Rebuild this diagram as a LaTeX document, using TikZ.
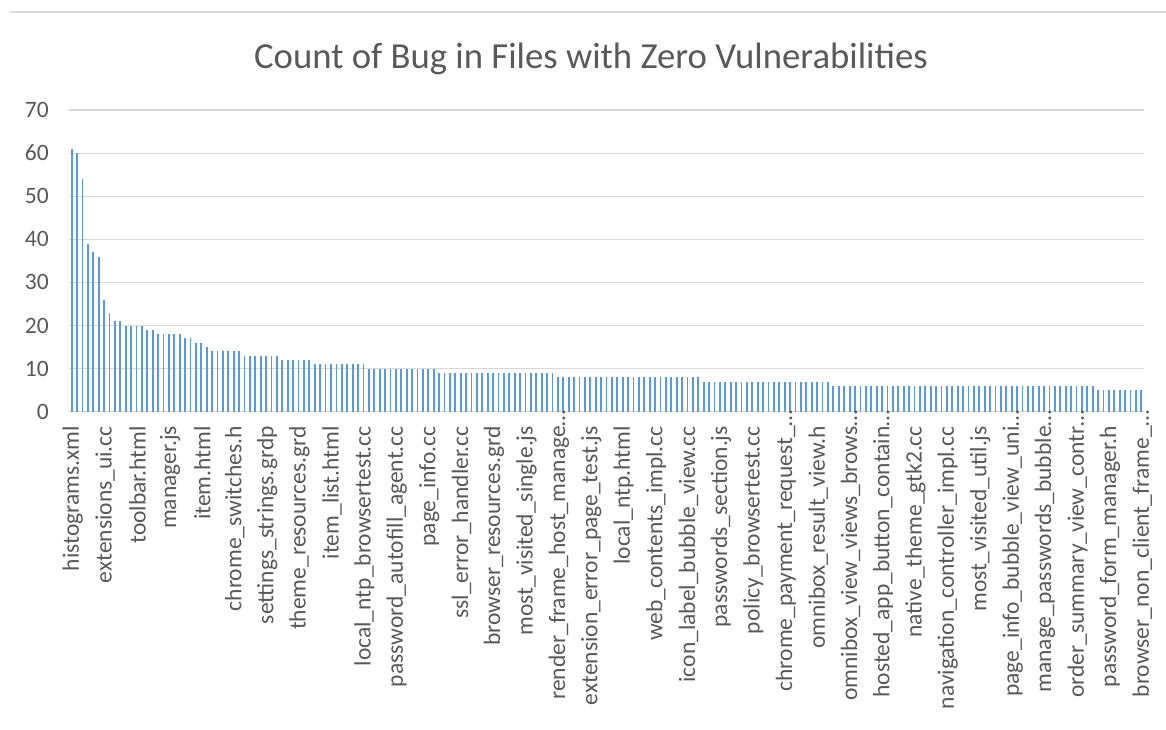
\documentclass[tikz,border=0pt]{standalone}
\usepackage{fontspec}
\setmainfont{Carlito}
\definecolor{barc}{HTML}{5B9BD5}
\definecolor{txt}{HTML}{595959}
\definecolor{gridc}{HTML}{D9D9D9}
\begin{document}
\begin{tikzpicture}[x=1pt,y=-1pt,
  gridline/.style={draw=gridc,line width=1.1pt},
  bar/.style={fill=barc},
  ylab/.style={anchor=east,inner sep=0pt,text=txt,font=\fontsize{23.5}{28}\selectfont},
  xlab/.style={anchor=east,rotate=90,inner sep=0pt,text=txt,font=\fontsize{23.5}{28}\selectfont},
  ttl/.style={anchor=base,inner sep=0pt,text=txt,font=\fontsize{36.7}{44}\selectfont}]
\useasboundingbox (0,0) rectangle (1166,729);
\fill[white] (0,0) rectangle (1166,729);
\draw[gridline] (10,12) -- (1166,12);
\node[ttl] (title) at (591,68) {Count of Bug in Files with Zero Vulnerabilities};
\foreach \v in {0,10,...,70} {
  \draw[gridline] (69,{411.7-\v*4.31}) -- (1144,{411.7-\v*4.31});
  \node[ylab] (y\v) at (49,{411.7-\v*4.31}) {\v};
}
\foreach \a/\b/\v in {0/0/61,1/1/60,2/2/54,3/3/39,4/4/37,5/5/36,6/6/26,7/7/23,8/9/21,10/13/20,14/15/19,16/20/18,21/22/17,23/24/16,25/25/15,26/31/14,32/38/13,39/44/12,45/54/11,55/67/10,68/89/9,90/116/8,117/140/7,141/189/6,190/198/5}{
  \foreach \i in {\a,...,\b}{
    \fill[bar] ({69+(\i+0.5)*5.402-0.9},411.7) rectangle ({69+(\i+0.5)*5.402+0.9},{411.7-\v*4.31});
  }
}
\foreach \i/\t in {0/histograms.xml,6/extensions\_ui.cc,12/toolbar.html,18/manager.js,24/item.html,30/chrome\_switches.h,36/settings\_strings.grdp,42/theme\_resources.grd,48/item\_list.html,54/local\_ntp\_browsertest.cc,60/password\_autofill\_agent.cc,66/page\_info.cc,72/ssl\_error\_handler.cc,78/browser\_resources.grd,84/most\_visited\_single.js,96/extension\_error\_page\_test.js,102/local\_ntp.html,108/web\_contents\_impl.cc,114/icon\_label\_bubble\_view.cc,120/passwords\_section.js,126/policy\_browsertest.cc,138/omnibox\_result\_view.h,156/native\_theme\_gtk2.cc,162/navigation\_controller\_impl.cc,168/most\_visited\_util.js,192/password\_form\_manager.h}{
  \node[xlab] (l\i) at ({69+(\i+0.5)*5.402+1},426) {\t};
}
\foreach \i/\t in {90/render\_frame\_host\_manage,132/chrome\_payment\_request\_,144/omnibox\_view\_views\_brows,150/hosted\_app\_button\_contain,174/page\_info\_bubble\_view\_uni,180/manage\_passwords\_bubble,186/order\_summary\_view\_contr,198/browser\_non\_client\_frame\_}{
  \node[xlab] (l\i) at ({69+(\i+0.5)*5.402+1},426) {\t\rlap{…}};
}
\end{tikzpicture}
\end{document}
